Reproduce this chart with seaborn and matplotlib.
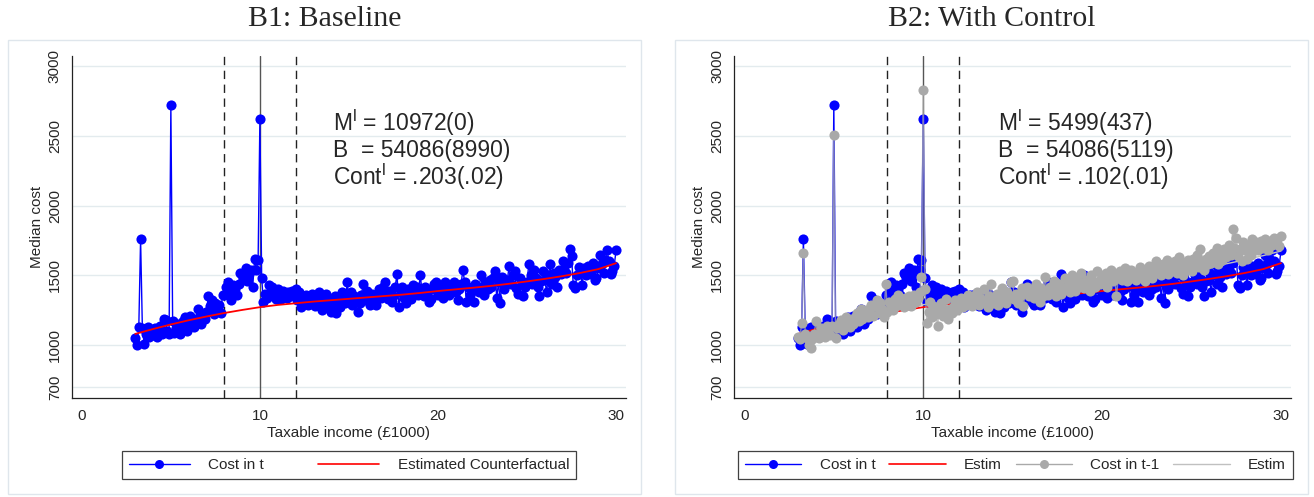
import numpy as np
import matplotlib
matplotlib.use('Agg')
import matplotlib.pyplot as plt
import seaborn as sns
from matplotlib.lines import Line2D
from matplotlib.patches import Rectangle

# ---------------- data ----------------
income = np.round(np.arange(30, 301) / 10.0, 1)   # taxable income bins (£1000), 3.0 .. 30.0

cost_t = [
    1050, 1000, 1130, 1760, 1120, 1010, 1080, 1130, 1060, 1100,
    1070, 1120, 1060, 1090, 1140, 1080, 1190, 1180, 1100, 1080,
    2720, 1170, 1090, 1120, 1150, 1080, 1140, 1170, 1200, 1100,
    1160, 1210, 1190, 1130, 1180, 1260, 1200, 1150, 1220, 1190,
    1240, 1350, 1280, 1320, 1220, 1300, 1250, 1290, 1230, 1360,
    1360, 1420, 1450, 1380, 1320, 1430, 1400, 1360, 1440, 1520,
    1500, 1480, 1550, 1460, 1510, 1540, 1420, 1620, 1540, 1610,
    2620, 1480, 1310, 1370, 1340, 1430, 1380, 1420, 1350, 1330,
    1400, 1360, 1330, 1390, 1370, 1340, 1380, 1350, 1390, 1360,
    1400, 1320, 1380, 1270, 1340, 1300, 1360, 1290, 1330, 1370,
    1320, 1280, 1350, 1380, 1300, 1250, 1340, 1370, 1290, 1330,
    1240, 1290, 1350, 1230, 1310, 1270, 1380, 1330, 1300, 1450,
    1340, 1380, 1290, 1350, 1310, 1240, 1300, 1360, 1440, 1330,
    1390, 1310, 1290, 1370, 1350, 1290, 1330, 1400, 1340, 1420,
    1450, 1370, 1330, 1390, 1310, 1350, 1420, 1510, 1270, 1380,
    1420, 1340, 1300, 1400, 1370, 1330, 1430, 1380, 1420, 1360,
    1500, 1400, 1350, 1420, 1380, 1310, 1330, 1400, 1440, 1450,
    1360, 1420, 1380, 1340, 1450, 1400, 1360, 1430, 1410, 1450,
    1380, 1320, 1400, 1440, 1540, 1450, 1310, 1420, 1360, 1390,
    1310, 1440, 1400, 1380, 1500, 1420, 1360, 1450, 1400, 1470,
    1420, 1480, 1530, 1340, 1450, 1300, 1490, 1400, 1440, 1470,
    1570, 1440, 1500, 1530, 1410, 1370, 1480, 1450, 1350, 1420,
    1450, 1580, 1500, 1440, 1540, 1480, 1420, 1350, 1460, 1530,
    1470, 1380, 1500, 1580, 1440, 1520, 1490, 1420, 1540, 1510,
    1600, 1540, 1520, 1590, 1690, 1640, 1430, 1410, 1500, 1560,
    1520, 1430, 1550, 1500, 1570, 1540, 1510, 1590, 1470, 1480,
    1550, 1650, 1580, 1520, 1610, 1680, 1600, 1510, 1530, 1570,
    1680,
]

cost_t1 = [
    1060, 1040, 1160, 1660, 1080, 1050, 1000, 980, 1040, 1080,
    1170, 1060, 1050, 1120, 1090, 1060, 1140, 1100, 1070, 1140,
    2510, 1050, 1120, 1150, 1180, 1110, 1140, 1200, 1160, 1130,
    1180, 1150, 1200, 1230, 1170, 1260, 1190, 1220, 1250, 1200,
    1230, 1290, 1210, 1280, 1320, 1230, 1300, 1260, 1200, 1440,
    1240, 1310, 1290, 1250, 1330, 1280, 1360, 1300, 1320, 1270,
    1340, 1300, 1350, 1280, 1320, 1360, 1310, 1340, 1380, 1490,
    2830, 1400, 1160, 1240, 1310, 1200, 1270, 1220, 1140, 1260,
    1300, 1210, 1250, 1330, 1190, 1260, 1230, 1280, 1320, 1250,
    1300, 1340, 1270, 1330, 1290, 1360, 1310, 1280, 1350, 1300,
    1380, 1290, 1340, 1310, 1400, 1320, 1270, 1350, 1440, 1300,
    1330, 1370, 1290, 1350, 1410, 1320, 1300, 1380, 1340, 1450,
    1460, 1330, 1370, 1300, 1350, 1410, 1280, 1390, 1420, 1350,
    1370, 1400, 1340, 1440, 1380, 1310, 1410, 1350, 1490, 1390,
    1360, 1420, 1380, 1460, 1350, 1400, 1440, 1370, 1410, 1480,
    1400, 1460, 1380, 1500, 1430, 1390, 1470, 1420, 1520, 1440,
    1410, 1470, 1430, 1390, 1500, 1450, 1420, 1530, 1460, 1440,
    1490, 1450, 1520, 1420, 1480, 1540, 1460, 1500, 1350, 1480,
    1530, 1470, 1510, 1550, 1460, 1500, 1540, 1480, 1520, 1470,
    1500, 1560, 1490, 1530, 1460, 1510, 1570, 1520, 1480, 1540,
    1600, 1520, 1560, 1500, 1580, 1540, 1610, 1510, 1570, 1530,
    1550, 1600, 1520, 1630, 1560, 1500, 1590, 1540, 1610, 1570,
    1530, 1620, 1580, 1650, 1560, 1690, 1600, 1540, 1620, 1580,
    1640, 1590, 1660, 1620, 1700, 1580, 1650, 1610, 1690, 1630,
    1680, 1720, 1650, 1830, 1700, 1770, 1640, 1690, 1600, 1740,
    1680, 1620, 1710, 1650, 1760, 1700, 1740, 1680, 1720, 1750,
    1700, 1760, 1730, 1680, 1750, 1720, 1770, 1740, 1760, 1710,
    1780,
]

cf_income = [3, 4, 5, 6, 7, 8, 9, 10, 11, 12, 13, 14, 15, 16, 17, 18,
             19, 20, 21, 22, 23, 24, 25, 26, 27, 28, 29, 30]
cf_t = [1080, 1115, 1148, 1178, 1205, 1230, 1252, 1272, 1288, 1300, 1312,
        1322, 1332, 1342, 1352, 1362, 1374, 1388, 1400, 1412, 1425, 1440,
        1457, 1475, 1495, 1518, 1545, 1588]
cf_t1 = [1050, 1085, 1120, 1160, 1200, 1240, 1270, 1290, 1305, 1315, 1328,
         1340, 1355, 1370, 1385, 1400, 1418, 1437, 1456, 1475, 1495, 1515,
         1537, 1560, 1585, 1612, 1642, 1675]

xticks = [0, 10, 20, 30]
yticks = [700, 1000, 1500, 2000, 2500, 3000]
titles = ["B1: Baseline", "B2: With Control"]
notes = [
    [r"M$^{\mathrm{l}}$ = 10972(0)", "B  = 54086(8990)", r"Cont$^{\mathrm{l}}$ = .203(.02)"],
    [r"M$^{\mathrm{l}}$ = 5499(437)", "B  = 54086(5119)", r"Cont$^{\mathrm{l}}$ = .102(.01)"],
]
bunch_point = 10
window = [8, 12]

# ---------------- style ----------------
sns.set_style("white")
plt.rcParams['font.family'] = ['Liberation Sans', 'DejaVu Sans']
plt.rcParams['mathtext.fontset'] = 'custom'
plt.rcParams['mathtext.rm'] = 'Liberation Sans'
plt.rcParams['mathtext.it'] = 'Liberation Sans:italic'
plt.rcParams['mathtext.bf'] = 'Liberation Sans:bold'

BLUE = '#0000ff'
RED = '#ff0000'
GRAY = '#a9a9a9'
GRID = '#e3ebee'

fig = plt.figure(figsize=(13.14, 4.97), dpi=100)
W, H = 1314, 497

# panel frames
for x0, x1 in [(8, 641), (675, 1308)]:
    fig.patches.append(Rectangle((x0 / W, 1 - 494 / H), (x1 - x0) / W, (494 - 40) / H,
                                 transform=fig.transFigure, fill=False,
                                 edgecolor='#dfe6ec', lw=1.0))

ax1 = fig.add_axes([71.5 / W, 1 - 398 / H, 554.5 / W, 342 / H])
ax2 = fig.add_axes([734 / W, 1 - 398 / H, 557 / W, 342 / H])

for i, ax in enumerate([ax1, ax2]):
    ax.set_xlim(-0.58, 30.56)
    ax.set_ylim(620, 3075)
    for yt in yticks:
        ax.axhline(yt, color=GRID, lw=1.0, zorder=0)
    for xv in window:
        ax.axvline(xv, color='#222222', lw=1.0, ls=(0, (6, 4)), zorder=1)
    ax.axvline(bunch_point, color='#555555', lw=1.0, zorder=1)

    sns.lineplot(x=income, y=cost_t, ax=ax, color=BLUE, lw=1.0, marker='o',
                 markersize=7.3, markeredgewidth=0, estimator=None, sort=False,
                 legend=False, zorder=3)
    sns.lineplot(x=cf_income, y=cf_t, ax=ax, color=RED, lw=1.3, estimator=None,
                 legend=False, zorder=4)
    if i == 1:
        sns.lineplot(x=income, y=cost_t1, ax=ax, color=GRAY, lw=1.0, alpha=0.75,
                     estimator=None, sort=False, legend=False, zorder=5)
        sns.scatterplot(x=income, y=cost_t1, ax=ax, color=GRAY, s=53, linewidth=0,
                        legend=False, zorder=6)
        sns.lineplot(x=cf_income, y=cf_t1, ax=ax, color='#c0c0c0', lw=1.0,
                     estimator=None, legend=False, zorder=4)

    ax.set_xticks(xticks)
    ax.set_yticks(yticks)
    ax.set_yticklabels([str(v) for v in yticks], rotation=90, va='center')
    ax.tick_params(axis='both', labelsize=11, length=5, width=0.8, color='#222222',
                   direction='out', pad=3)
    ax.tick_params(axis='y', pad=2)
    ax.set_xlabel("Taxable income (£1000)", fontsize=11, labelpad=2)
    ax.set_ylabel("Median cost", fontsize=11, labelpad=3)
    for s in ['top', 'right']:
        ax.spines[s].set_visible(False)
    for s in ['left', 'bottom']:
        ax.spines[s].set_color('#222222')
        ax.spines[s].set_linewidth(0.9)

    for j, (txt, yv) in enumerate(zip(notes[i], [2600, 2400, 2207])):
        ax.text(14.1 if i == 0 else 14.2, yv, txt, fontsize=16.5, va='center', ha='left')

# titles
fig.text(324.5 / W, 1 - 19 / H, titles[0], ha='center', va='center',
         fontsize=21.5, family='Liberation Serif')
fig.text(991.5 / W, 1 - 19 / H, titles[1], ha='center', va='center',
         fontsize=21.5, family='Liberation Serif')

# legends
h_t = Line2D([0], [0], color=BLUE, lw=1.0, marker='o', ms=6.5, mew=0)
h_cf = Line2D([0], [0], color=RED, lw=1.2)
h_t1 = Line2D([0], [0], color=GRAY, lw=1.0, marker='o', ms=6.5, mew=0)
h_cf1 = Line2D([0], [0], color='#c0c0c0', lw=1.0)

leg1 = ax1.legend([h_t, h_cf], ["Cost in t", "Estimated Counterfactual"], ncol=2,
                  loc='lower left', mode='expand', fontsize=11,
                  bbox_to_anchor=((122 - 71.5) / 554.5, (398 - 479) / 342,
                                  454 / 554.5, 30 / 342),
                  frameon=True, fancybox=False, handlelength=4.0, handletextpad=1.2,
                  borderpad=0.45, borderaxespad=0)
leg2 = ax2.legend([h_t, h_cf, h_t1, h_cf1], ["Cost in t", "Estim", "Cost in t-1", "Estim"],
                  ncol=4, loc='lower left', mode='expand', fontsize=11,
                  bbox_to_anchor=((738 - 734) / 557, (398 - 479) / 342,
                                  555 / 557, 30 / 342),
                  frameon=True, fancybox=False, handlelength=3.7, handletextpad=1.2,
                  borderpad=0.45, borderaxespad=0)
for lg in [leg1, leg2]:
    lg.get_frame().set_edgecolor('#111111')
    lg.get_frame().set_linewidth(0.9)

fig.savefig('out.png', dpi=100, facecolor='white')
